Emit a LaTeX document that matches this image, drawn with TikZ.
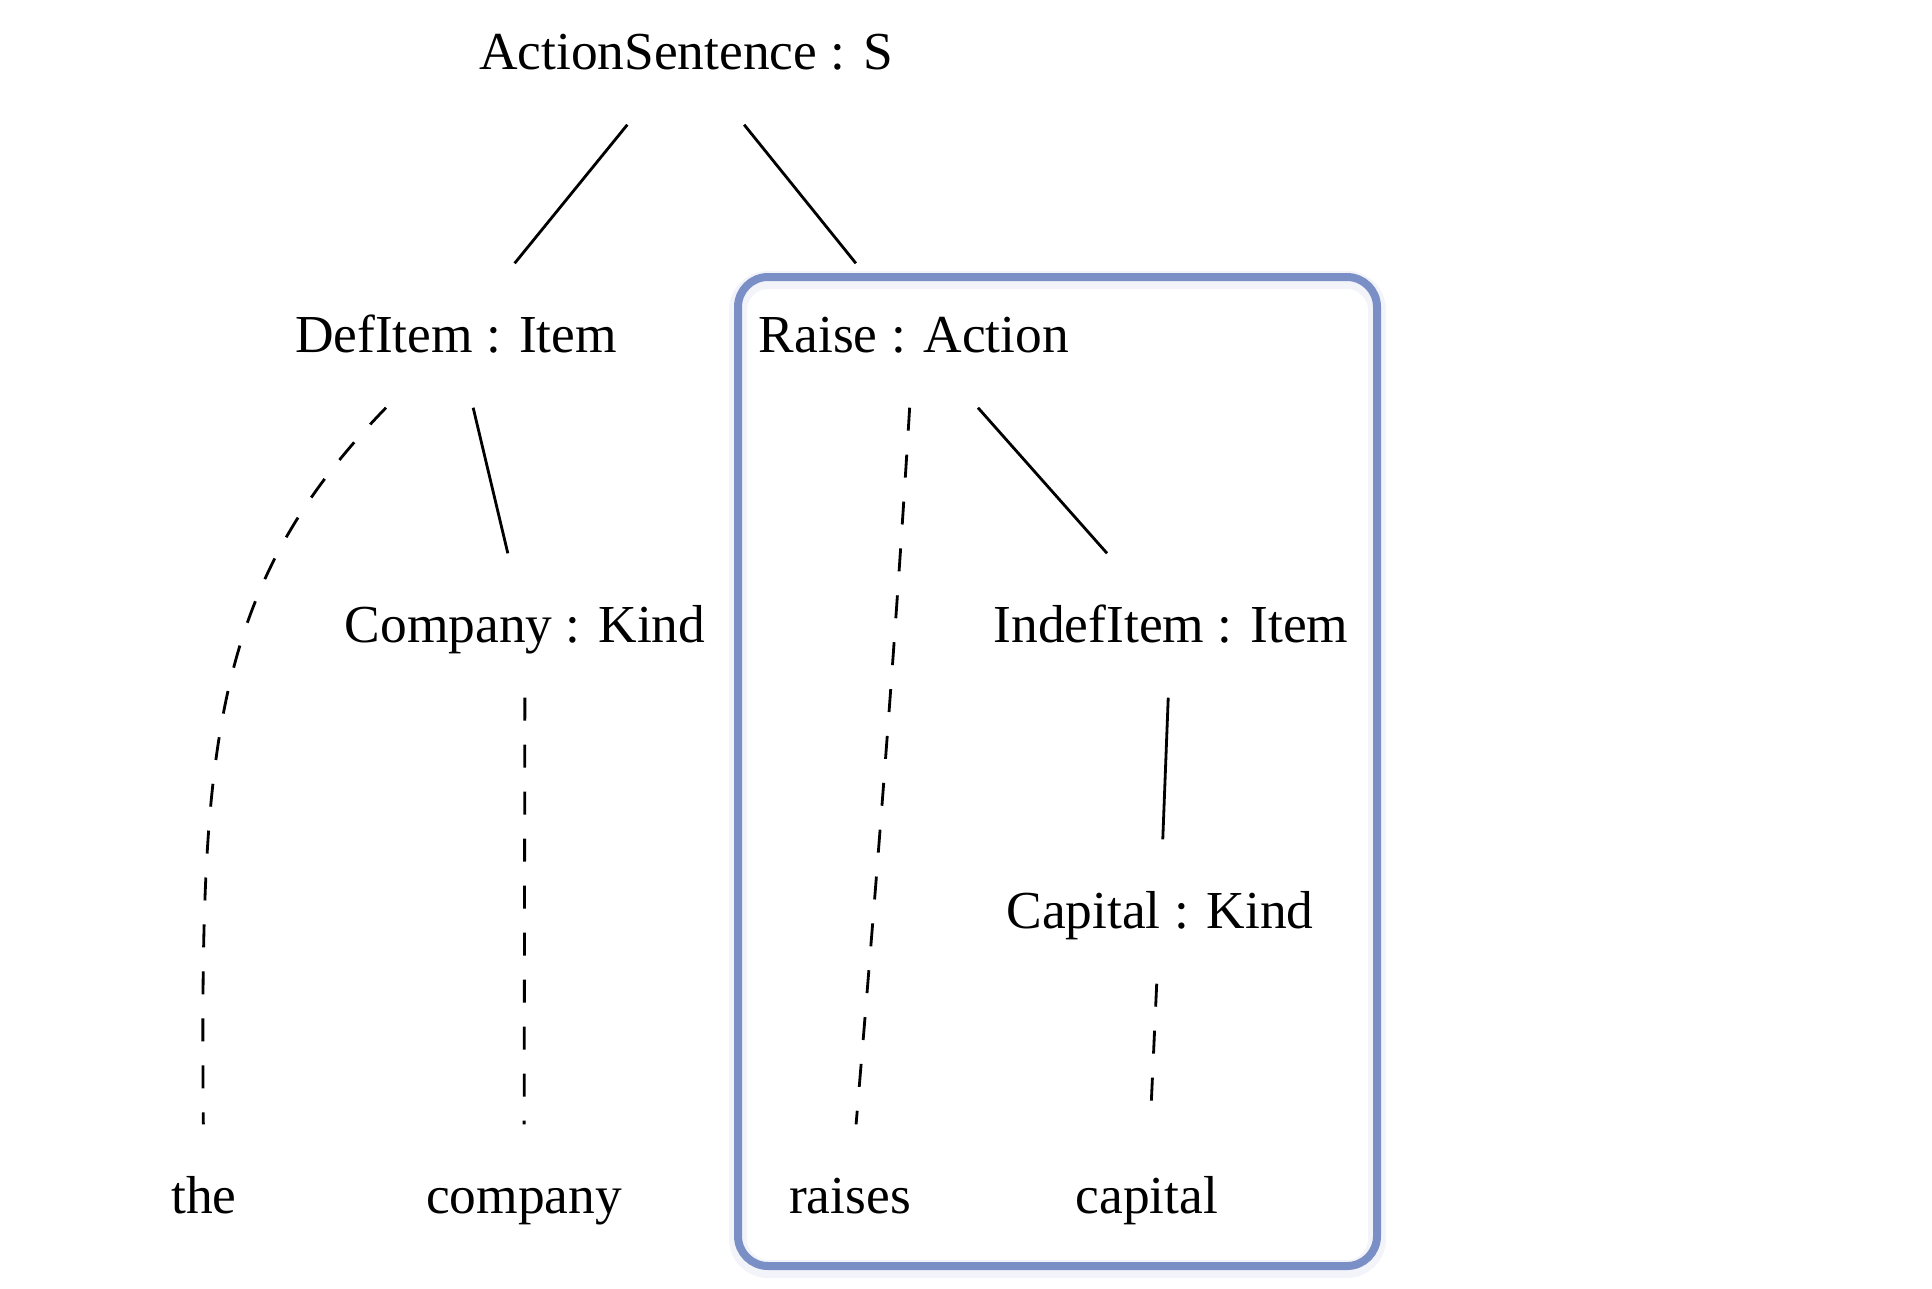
\documentclass[tikz,border=0pt]{standalone}
\usepackage{fontspec}
\setmainfont{Liberation Serif}
\definecolor{raiseBlue}{RGB}{123, 143, 199}

\begin{document}
\begin{tikzpicture}[
    x=0.1mm, y=-0.1mm,
    word/.style={
        rectangle,
        font=\fontsize{15.2}{18}\selectfont,
        text height=3.3mm,
        text depth=0mm,
        inner xsep=2mm,
        inner ysep=5.5mm,
        anchor=base
    },
    edge/.style={line width=0.8pt},
    trace/.style={line width=0.8pt, dash pattern=on 2.3mm off 2.4mm}
]
    \useasboundingbox (0,0) rectangle (1932,1288);

    % highlighted subtree
    \draw[raiseBlue!10, line width=1.8mm, rounded corners=3mm] (738,280) rectangle (1377,1269);
    \draw[raiseBlue, line width=0.8mm, rounded corners=3mm] (738,277) rectangle (1377,1266);

    \node[word] (sentence) at (686,69) {ActionSentence : S};
    \node[word] (defitem) at (456,352) {DefItem : Item};
    \node[word] (raise) at (914,352) {Raise : Action};
    \node[word] (company) at (525,642) {Company : Kind};
    \node[word] (indefitem) at (1171,642) {IndefItem : Item};
    \node[word] (capital) at (1160,928) {Capital : Kind};

    % leaves
    \node[word] (the) at (204,1213) {the};
    \node[word] (companyw) at (524,1213) {company};
    \node[word] (raises) at (850,1213) {raises};
    \node[word] (capitalw) at (1147,1213) {capital};

    \draw[edge] (sentence) -- (defitem);
    \draw[edge] (sentence) -- (raise);
    \draw[edge] (defitem) -- (company);
    \draw[edge] (raise) -- (indefitem);
    \draw[edge] (indefitem) -- (capital);

    \draw[trace] (defitem) .. controls (210,589) and (200,750) .. (the);
    \draw[trace] (company) -- (companyw);
    \draw[trace] (raise) .. controls (895,650) and (875,900) .. (raises);
    \draw[trace] (capital) -- (capitalw);

\end{tikzpicture}
\end{document}
